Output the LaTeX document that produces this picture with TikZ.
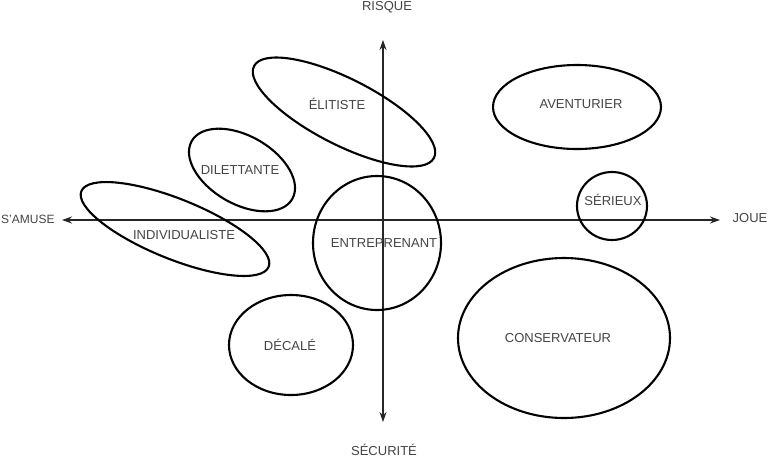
\documentclass[tikz,border=0pt]{standalone}
\usepackage{fontspec}
\setmainfont{Liberation Sans}
\usetikzlibrary{arrows.meta}
\definecolor{txt}{HTML}{444444}
\tikzset{
  lbl/.style={text=txt,font=\fontsize{13}{15}\selectfont,inner sep=0pt},
  oval/.style={line width=2.1pt,black},
  axis/.style={line width=1.1pt,black!85,-{Stealth[length=10pt,width=7pt]}}
}
\begin{document}
\begin{tikzpicture}[x=1pt,y=-1pt]
\useasboundingbox (0,0) rectangle (769,459);
% axes
\coordinate (o) at (383,220);
\coordinate (top) at (383,40);
\coordinate (bot) at (383,422);
\coordinate (left) at (62,220);
\coordinate (right) at (720,220);
\draw[axis] (o) -- (top);
\draw[axis] (o) -- (bot);
\draw[axis] (o) -- (left);
\draw[axis] (o) -- (right);
\node[lbl] (risque) at (387,7) {RISQUE};
\node[lbl] (securite) at (384,450) {SÉCURITÉ};
\node[lbl,anchor=west,font=\fontsize{12}{14}\selectfont] (samuse) at (1,219) {S'AMUSE};
\node[lbl] (joue) at (750,218) {JOUE};
% ellipses
\draw[oval,rotate around={-27:(344,112)}] (344,112) ellipse [x radius=101, y radius=33];
\node[lbl] (elitiste) at (337,104) {ÉLITISTE};
\draw[oval,rotate around={-30:(242,170)}] (242,170) ellipse [x radius=58, y radius=34];
\node[lbl] (dilettante) at (240,170) {DILETTANTE};
\draw[oval,rotate around={-22:(175,229)}] (175,229) ellipse [x radius=101, y radius=30];
\node[lbl] (individualiste) at (184,235) {INDIVIDUALISTE};
\draw[oval] (377,243) ellipse [x radius=64, y radius=67];
\node[lbl] (entreprenant) at (384,243) {ENTREPRENANT};
\draw[oval] (291,345) ellipse [x radius=62, y radius=50];
\node[lbl] (decale) at (290,345) {DÉCALÉ};
\draw[oval] (577,107) ellipse [x radius=84, y radius=42];
\node[lbl] (aventurier) at (581,104) {AVENTURIER};
\draw[oval] (612,206) ellipse [x radius=35, y radius=34];
\node[lbl] (serieux) at (613,200) {SÉRIEUX};
\draw[oval] (564,338) ellipse [x radius=106, y radius=80];
\node[lbl] (conservateur) at (558,338) {CONSERVATEUR};
\end{tikzpicture}
\end{document}
